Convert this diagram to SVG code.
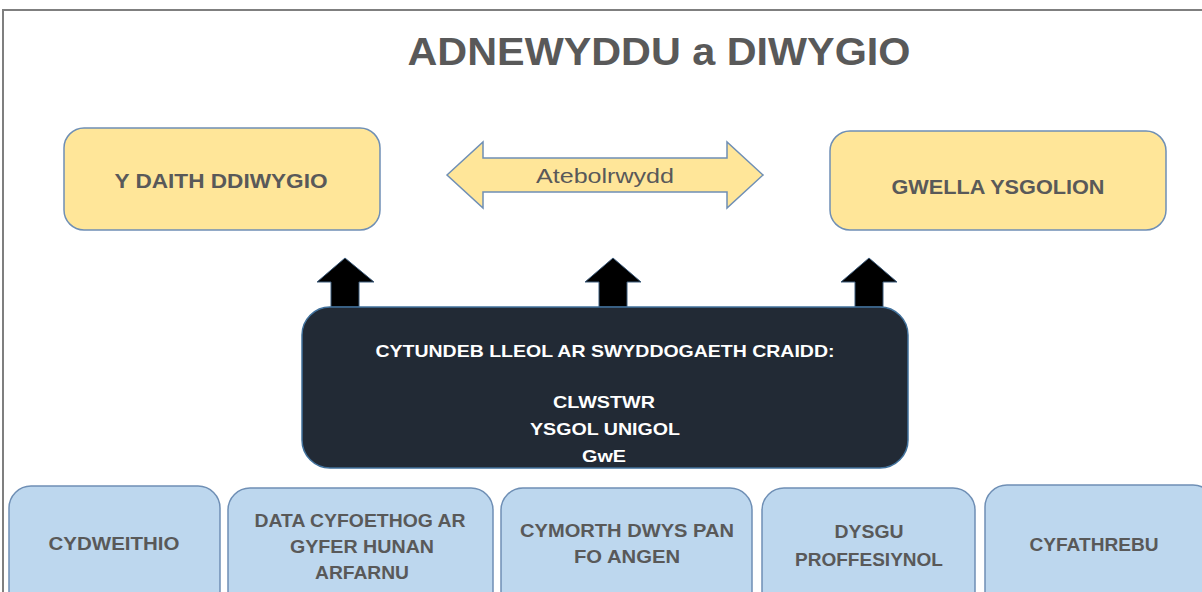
<svg xmlns="http://www.w3.org/2000/svg" width="1202" height="592" viewBox="0 0 1202 592">
<style>
.t{font-family:"Liberation Sans",Arial,sans-serif;font-weight:bold;fill:#595959;text-anchor:middle}
.w{font-family:"Liberation Sans",Arial,sans-serif;font-weight:bold;fill:#ffffff;text-anchor:middle;font-size:17px}
.y{fill:#FFE699;stroke:#6F8FB5;stroke-width:1.5}
.b{fill:#BDD7EE;stroke:#6F8FB5;stroke-width:1.5}
.k{fill:#000000;stroke:#3B5A7A;stroke-width:1}
</style>
<rect width="1202" height="592" fill="#ffffff"/>
<path d="M3,592 V10 H1202" fill="none" stroke="#7F7F7F" stroke-width="2"/>
<text class="t" x="659" y="65" font-size="38" textLength="503" lengthAdjust="spacingAndGlyphs">ADNEWYDDU a DIWYGIO</text>
<g id="daith">
<rect class="y" x="64" y="128" width="316" height="102" rx="20"/>
<text class="t" x="221" y="188" font-size="20" textLength="213" lengthAdjust="spacingAndGlyphs">Y DAITH DDIWYGIO</text>
</g>
<g id="gwella">
<rect class="y" x="830" y="131" width="336" height="99" rx="20"/>
<text class="t" x="998" y="194" font-size="20" textLength="213" lengthAdjust="spacingAndGlyphs">GWELLA YSGOLION</text>
</g>
<g id="connectors">
<g id="atebolrwydd">
<polygon class="y" points="447,175 483,142 483,158 727,158 727,142 763,175 727,208 727,192 483,192 483,208"/>
<text x="605" y="183" font-family="Liberation Sans,Arial,sans-serif" font-size="20" fill="#595959" text-anchor="middle" textLength="138" lengthAdjust="spacingAndGlyphs">Atebolrwydd</text>
</g>
<polygon class="k" points="331,307 331,282 317,282 345,258 374,282 359,282 359,307"/>
<polygon class="k" points="599,307 599,282 585,282 613,258 641,282 627,282 627,307"/>
<polygon class="k" points="855,307 855,282 841,282 869,258 897,282 883,282 883,307"/>
</g>
<g id="cytundeb">
<rect x="302" y="307" width="606" height="161" rx="28" fill="#222A35" stroke="#41719C" stroke-width="1.5"/>
<text class="w" x="605" y="357" textLength="459" lengthAdjust="spacingAndGlyphs">CYTUNDEB LLEOL AR SWYDDOGAETH CRAIDD:</text>
<text class="w" x="604" y="408" textLength="102" lengthAdjust="spacingAndGlyphs">CLWSTWR</text>
<text class="w" x="605" y="435" textLength="150" lengthAdjust="spacingAndGlyphs">YSGOL UNIGOL</text>
<text class="w" x="604" y="462" textLength="44" lengthAdjust="spacingAndGlyphs">GwE</text>
</g>
<g id="cydweithio">
<rect class="b" x="9" y="486" width="211" height="130" rx="22"/>
<text class="t" x="114" y="550" font-size="18" textLength="131" lengthAdjust="spacingAndGlyphs">CYDWEITHIO</text>
</g>
<g id="data">
<rect class="b" x="228" y="488" width="265" height="130" rx="22"/>
<text class="t" x="360" y="527" font-size="18" textLength="211" lengthAdjust="spacingAndGlyphs">DATA CYFOETHOG AR</text>
<text class="t" x="362" y="553" font-size="18" textLength="144" lengthAdjust="spacingAndGlyphs">GYFER HUNAN</text>
<text class="t" x="362" y="579" font-size="18" textLength="94" lengthAdjust="spacingAndGlyphs">ARFARNU</text>
</g>
<g id="cymorth">
<rect class="b" x="501" y="488" width="251" height="130" rx="22"/>
<text class="t" x="627" y="537" font-size="18" textLength="214" lengthAdjust="spacingAndGlyphs">CYMORTH DWYS PAN</text>
<text class="t" x="627" y="563" font-size="18" textLength="106" lengthAdjust="spacingAndGlyphs">FO ANGEN</text>
</g>
<g id="dysgu">
<rect class="b" x="762" y="488" width="213" height="130" rx="22"/>
<text class="t" x="869" y="538" font-size="18" textLength="69" lengthAdjust="spacingAndGlyphs">DYSGU</text>
<text class="t" x="869" y="566" font-size="18" textLength="148" lengthAdjust="spacingAndGlyphs">PROFFESIYNOL</text>
</g>
<g id="cyfathrebu">
<rect class="b" x="985" y="485" width="230" height="130" rx="22"/>
<text class="t" x="1094" y="551" font-size="18" textLength="129" lengthAdjust="spacingAndGlyphs">CYFATHREBU</text>
</g>
</svg>
